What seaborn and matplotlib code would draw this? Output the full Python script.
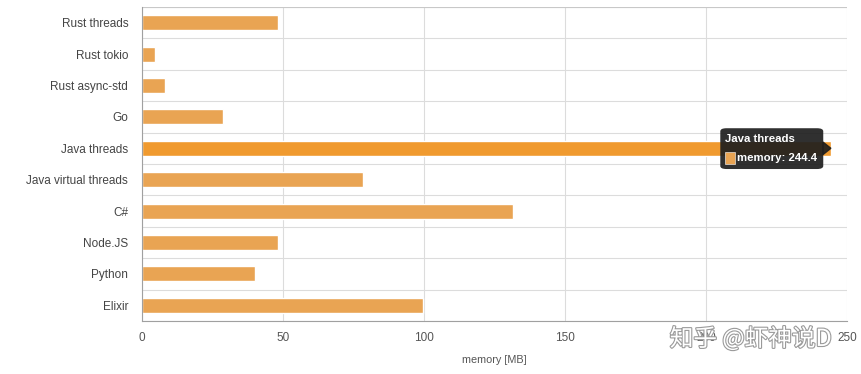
import numpy as np
import pandas as pd
import seaborn as sns
import matplotlib.pyplot as plt
from matplotlib.patches import FancyBboxPatch, Rectangle
import matplotlib.patheffects as pe

# data
languages = ['Rust threads', 'Rust tokio', 'Rust async-std', 'Go', 'Java threads',
             'Java virtual threads', 'C#', 'Node.JS', 'Python', 'Elixir']
memory_mb = [48.2, 4.5, 8.0, 28.7, 244.4, 78.4, 131.6, 48.2, 40.1, 99.6]
x_ticks = [0, 50, 100, 150, 200, 250]
highlight = 'Java threads'

df = pd.DataFrame({'lang': languages, 'memory': memory_mb})

sns.set_style('white')
plt.rcParams['font.family'] = ['Liberation Sans', 'Noto Sans CJK SC', 'DejaVu Sans']

fig = plt.figure(figsize=(8.61, 3.74), dpi=100)
ax = fig.add_axes([0.165, 0.142, 0.819, 0.839])

base = '#E9A453'
hot = '#F09A2F'
palette = {l: (hot if l == highlight else base) for l in languages}
sns.barplot(data=df, y='lang', x='memory', hue='lang', palette=palette, legend=False,
            orient='h', width=0.48, saturation=1, ax=ax, order=languages)

ax.set_xlim(0, 250)
ax.set_ylim(len(languages) - 0.5, -0.5)
ax.set_xticks(x_ticks)
ax.set_yticks(np.arange(len(languages) + 1) - 0.5, minor=True)

grid_c = '#DCDCDC'
ax.grid(True, axis='x', color=grid_c, lw=0.8)
ax.grid(True, axis='y', which='minor', color=grid_c, lw=0.8)
ax.set_axisbelow(True)

for s in ['top', 'right']:
    ax.spines[s].set_visible(False)
ax.spines['left'].set_color('#A0A0A0')
ax.spines['bottom'].set_color('#A0A0A0')
ax.spines['left'].set_linewidth(0.8)
ax.spines['bottom'].set_linewidth(0.8)
ax.axhline(-0.5, color='#C8C8C8', lw=0.8)

ax.tick_params(axis='y', which='major', length=0, pad=10, labelsize=8.5, labelcolor='#444444')
ax.tick_params(axis='y', which='minor', length=7, color=grid_c, width=0.8)
ax.tick_params(axis='x', length=0, pad=8, labelsize=8.5, labelcolor='#555555')
ax.set_ylabel('')
ax.set_xlabel('memory [MB]', fontsize=7.8, color='#555555', labelpad=8)

# tooltip on the highlighted bar
yi = languages.index(highlight)
val = memory_mb[yi]
box = FancyBboxPatch((205, yi - 0.64), 36.5, 1.3, boxstyle='round,pad=0,rounding_size=2.2',
                     mutation_aspect=0.045, fc='#1e1e1e', ec='none', alpha=0.92, zorder=5,
                     clip_on=False)
ax.add_patch(box)
ax.fill([241.4, 244.2, 241.4], [yi - 0.2, yi, yi + 0.2], color='#1e1e1e', alpha=0.92, zorder=5,
        clip_on=False)
ax.text(206.5, yi - 0.3, highlight, color='white', fontsize=8.2, fontweight='bold',
        va='center', ha='left', zorder=6)
ax.add_patch(Rectangle((206.5, yi + 0.12), 3.6, 0.38, fc=base, ec='white', lw=0.4, zorder=6))
ax.text(211, yi + 0.31, f'memory: {val}', color='white', fontsize=8.2, fontweight='bold',
        va='center', ha='left', zorder=6)

# watermark
fig.text(0.872, 0.095, '知乎 @虾神说D', fontsize=17, color='white', ha='center', va='center',
         family=['Noto Sans CJK SC', 'DejaVu Sans'],
         path_effects=[pe.withStroke(linewidth=1.6, foreground='#9a9a9a')])

fig.savefig('out.png', dpi=100)
